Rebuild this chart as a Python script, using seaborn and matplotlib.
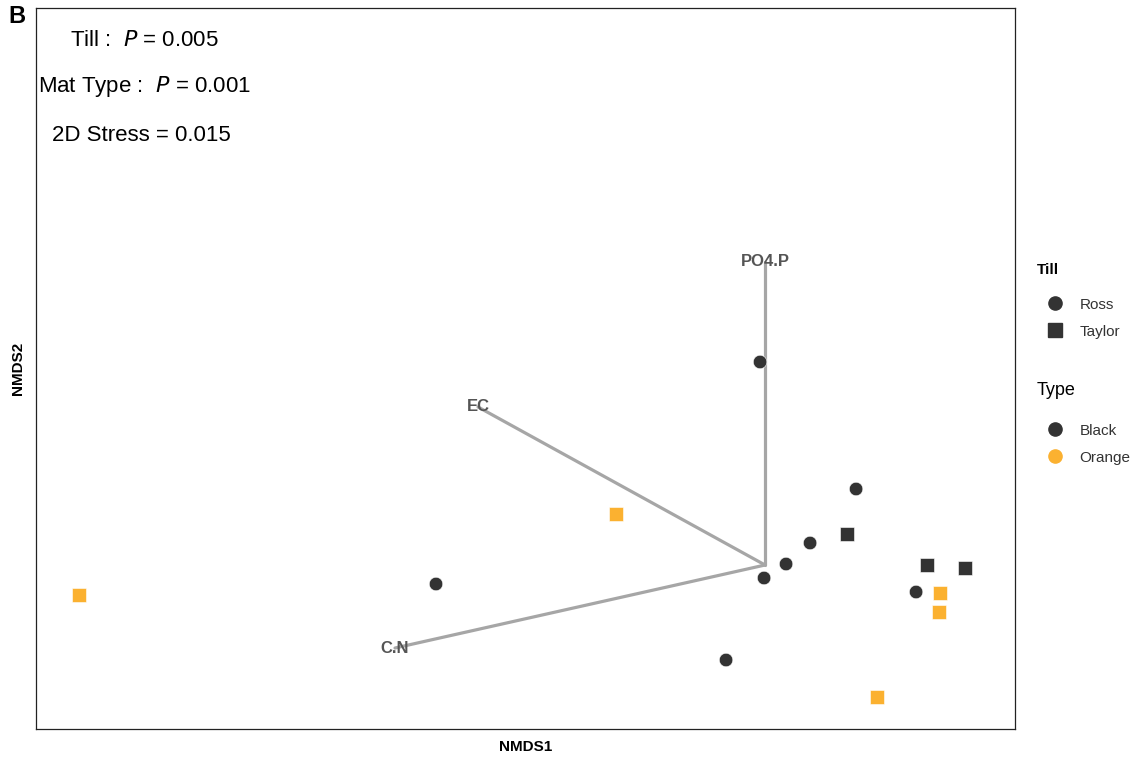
import numpy as np
import pandas as pd
import matplotlib.pyplot as plt
import seaborn as sns
from matplotlib.lines import Line2D

# NMDS scores
nmds1 = [0.2275, 0.1125, 0.0525, -0.0025, 0.3775, -0.0975, -0.0125, -0.8225,
         0.205, 0.405, 0.5,
         0.4375, 0.435, 0.28, -0.3725, -1.715]
nmds2 = [0.19, 0.055, 0.0025, -0.0325, -0.0675, -0.2375, 0.5075, -0.0475,
         0.0775, 0.0, -0.0075,
         -0.07, -0.1175, -0.33, 0.1275, -0.075]
till = ["Ross"] * 8 + ["Taylor"] * 3 + ["Taylor"] * 5
mat_type = ["Black"] * 8 + ["Black"] * 3 + ["Orange"] * 5

# environmental fit vectors
vec_names = ["PO4.P", "EC", "C.N"]
vec_x = [0.0, -0.7175, -0.925]
vec_y = [0.7575, 0.395, -0.2075]

df = pd.DataFrame({"NMDS1": nmds1, "NMDS2": nmds2, "Till": till, "Type": mat_type})

sns.set_style("white")
plt.rcParams["font.family"] = ["Liberation Sans", "DejaVu Sans"]
plt.rcParams["text.color"] = "black"
plt.rcParams["axes.labelcolor"] = "black"

pal = {"Black": "#333333", "Orange": "#FBB130"}
marks = {"Ross": "o", "Taylor": "s"}

fig = plt.figure(figsize=(11.38, 7.59), dpi=100)
ax = fig.add_axes([0.0316, 0.0395, 0.8604, 0.95])

for nm, vx, vy in zip(vec_names, vec_x, vec_y):
    ax.plot([0, vx], [0, vy], color="#A6A6A6", lw=2.3, zorder=1)
    ax.text(vx, vy, nm, color="#555555", fontsize=12, fontweight="bold",
            ha="center", va="center", zorder=2)

sns.scatterplot(data=df, x="NMDS1", y="NMDS2", hue="Type", style="Till",
                palette=pal, markers=marks, s=95, edgecolor="white", linewidth=0.4,
                legend=False, ax=ax, zorder=3)

ax.set_xlim(-1.8225, 0.625)
ax.set_ylim(-0.41, 1.3925)
ax.set_xticks([])
ax.set_yticks([])
ax.set_xlabel("NMDS1", fontsize=11, fontweight="bold", labelpad=8)
ax.set_ylabel("NMDS2", fontsize=11, fontweight="bold", labelpad=8)
for sp in ax.spines.values():
    sp.set_color("#222222")
    sp.set_linewidth(0.9)

# stats text
ax.text(0.035, 0.955, r"Till :  $\it{P}$ = 0.005", transform=ax.transAxes,
        fontsize=16, ha="left", va="center")
ax.text(0.002, 0.891, r"Mat Type :  $\it{P}$ = 0.001", transform=ax.transAxes,
        fontsize=16, ha="left", va="center")
ax.text(0.016, 0.823, "2D Stress = 0.015", transform=ax.transAxes,
        fontsize=16, ha="left", va="center")

fig.text(0.007, 0.978, "B", fontsize=17, fontweight="bold", ha="left", va="center")

# legends, titles drawn separately
fig.text(0.911, 0.644, "Till", fontsize=11, fontweight="bold", va="center")
fig.text(0.911, 0.486, "Type", fontsize=13, va="center")
till_h = [Line2D([], [], marker=marks[k], color="#333333", ls="", markersize=9.5) for k in ["Ross", "Taylor"]]
type_h = [Line2D([], [], marker="o", color=pal[k], ls="", markersize=9.5) for k in ["Black", "Orange"]]
leg1 = fig.legend(till_h, ["Ross", "Taylor"], loc="upper left",
                  bbox_to_anchor=(0.907, 0.618), frameon=False, fontsize=11,
                  handletextpad=0.6, labelspacing=0.85, borderpad=0)
for t in leg1.get_texts():
    t.set_color("#333333")
leg2 = fig.legend(type_h, ["Black", "Orange"], loc="upper left",
                  bbox_to_anchor=(0.907, 0.452), frameon=False, fontsize=11,
                  handletextpad=0.6, labelspacing=0.85, borderpad=0)
for t in leg2.get_texts():
    t.set_color("#333333")

fig.savefig("out.png", dpi=100)
